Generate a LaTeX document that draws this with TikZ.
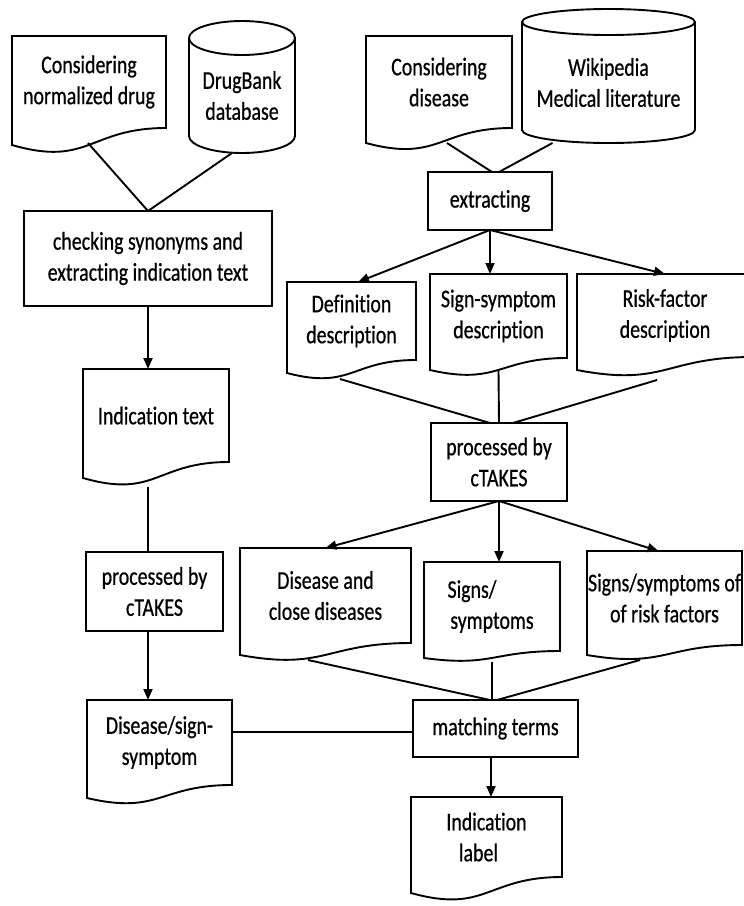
\documentclass[tikz,border=0pt]{standalone}
\usepackage{fontspec}
\setmainfont{Carlito}[FakeStretch=0.78, FakeBold=0.6, Ligatures=NoCommon]
\usetikzlibrary{arrows.meta,calc}

% document symbol: name, x1, x2, top, right bottom, left bottom, text
\newcommand\docnode[7]{%
  \draw[shapeline] (#2,#4) -- (#3,#4) -- (#3,#5)
    .. controls ({(#2+#3)/2},#5) and ({(#2+#3)/2},{#5+2.31*(#6-#5)}) .. (#2,#6) -- cycle;
  \node[txt, minimum width={#3-#2}, minimum height={#5-#4}] (#1)
    at ({(#2+#3)/2},{(#4+#5)/2}) {#7};
}
% database cylinder: name, x1, x2, top, bottom, end radius, text
\newcommand\cylnode[7]{%
  \draw[shapeline] (#2,{#4+#6}) -- (#2,{#5-#6})
    arc[start angle=180, end angle=0, x radius={(#3-#2)/2}, y radius=#6]
    -- (#3,{#4+#6})
    arc[start angle=0, end angle=-180, x radius={(#3-#2)/2}, y radius=#6] -- cycle;
  \draw[shapeline] (#2,{#4+#6})
    arc[start angle=180, end angle=0, x radius={(#3-#2)/2}, y radius=#6];
  \node[txt, minimum width={#3-#2}, minimum height={#5-#4-#6}] (#1)
    at ({(#2+#3)/2},{(#4+#6+#5)/2}) {#7};
}
% process box: name, x1, x2, top, bottom, text
\newcommand\boxnode[6]{%
  \node[txt, draw, line width=1.9pt, fill=white,
        minimum width={#3-#2}, minimum height={#5-#4}] (#1)
    at ({(#2+#3)/2},{(#4+#5)/2}) {#6};
}

\tikzset{
  shapeline/.style={line width=1.9pt, fill=white, line join=miter},
  txt/.style={inner sep=0pt, outer sep=0pt, align=center,
              font=\fontsize{25.5pt}{31pt}\selectfont},
  conn/.style={line width=1.9pt},
  arr/.style={conn, -{Triangle[length=11pt,width=9pt]}},
}

\begin{document}
\begin{tikzpicture}[x=1pt, y=-1pt]
\useasboundingbox[fill=white] (0,0) rectangle (744,906);

% drug side
\docnode{drug}{12}{166}{36}{128}{145}{Considering\\normalized drug}
\cylnode{drugbank}{189}{295}{21}{153}{17}{DrugBank\\database}
\boxnode{synonyms}{24}{272}{211}{306}{checking synonyms and\\extracting indication text}
\docnode{indtext}{83}{229}{369}{462}{478}{Indication text}
\boxnode{ctakesL}{86}{223}{552}{631}{processed by\\cTAKES}
\docnode{dsign}{87}{232}{700}{785}{798}{Disease/sign-\\symptom}

% disease side
\docnode{disease}{366}{512}{36}{128}{143}{Considering\\disease}
\cylnode{wiki}{522}{695}{9}{143}{13}{Wikipedia\\Medical literature}
\boxnode{extract}{428}{552}{172}{230}{extracting}
\docnode{defdesc}{287}{416}{282}{360}{373}{Definition\\description}
\docnode{signdesc}{430}{567}{274}{358}{370}{Sign-symptom\\description}
\docnode{riskdesc}{577}{753}{274}{357}{370}{Risk-factor\\description}
\boxnode{ctakesR}{431}{567}{423}{501}{processed by\\cTAKES}
\docnode{close}{240}{411}{548}{643}{655}{Disease and\\close diseases}
\docnode{signs}{424}{560}{562}{651}{658}{Signs/\kern40pt\\symptoms}
\docnode{risksigns}{587}{742}{551}{645}{655}{Signs/symptoms of\\of risk factors}
\boxnode{match}{413}{578}{700}{757}{matching terms}
\docnode{label}{411}{562}{797}{877}{893}{Indication\\label\kern16pt}

% connectors, drug side
\coordinate (colL) at (synonyms.south);
\draw[conn] ([xshift=-1pt,yshift=-15pt]drug.south) -- (synonyms.north);
\draw[conn] ([xshift=-10pt]drugbank.south) -- (synonyms.north);
\draw[arr] (synonyms.south) -- (colL |- indtext.north);
\draw[conn] ($(colL |- indtext.south)+(0,25)$) -- (colL |- ctakesL.north);
\draw[arr] (colL |- ctakesL.south) -- (colL |- dsign.north);
\coordinate (dsignout) at ([yshift=10.5pt]dsign.east);
\draw[conn] (dsignout) -- (dsignout -| match.west);

% connectors, disease side
\draw[conn] ([xshift=8pt,yshift=-15pt]disease.south) -- ([xshift=2pt]extract.north);
\draw[conn] ([xshift=-56pt]wiki.south) -- ([xshift=9pt]extract.north);
\draw[arr] (extract.south) -- ([xshift=6.5pt]defdesc.north);
\draw[arr] (extract.south) -- (extract.south |- signdesc.north);
\draw[arr] (extract.south) -- (riskdesc.north);
\draw[conn] ([xshift=-11.5pt,yshift=-19pt]defdesc.south) -- ([xshift=-9pt]ctakesR.north);
\draw[conn] ([yshift=-12pt]signdesc.south) -- (ctakesR.north);
\draw[conn] ([xshift=-8pt,yshift=-23pt]riskdesc.south) -- ([xshift=14pt]ctakesR.north);
\draw[arr] (ctakesR.south) -- (close.north);
\draw[arr] (ctakesR.south) -- (ctakesR.south |- signs.north);
\draw[arr] (ctakesR.south) -- ([xshift=-6pt]risksigns.north);
\draw[conn] ([xshift=-17.5pt,yshift=-17pt]close.south) -- ([xshift=-5.5pt]match.north);
\draw[conn] ([yshift=-11pt]signs.south) -- (signs.south |- match.north);
\draw[conn] ([xshift=-24.5pt,yshift=-15pt]risksigns.south) -- ([xshift=1.5pt]match.north);
\coordinate (matchout) at ([xshift=-4.5pt]match.south);
\draw[arr] (matchout) -- (matchout |- label.north);
\end{tikzpicture}
\end{document}
